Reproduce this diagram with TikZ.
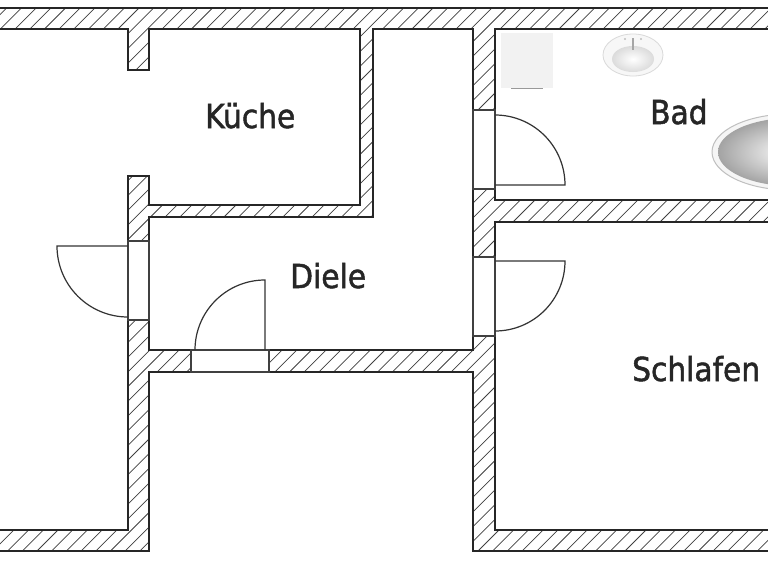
\documentclass[tikz,border=0pt]{standalone}
\usepackage{fontspec}
\newfontfamily\roomfont{DejaVu Sans Condensed}[FakeBold=1.5]
\begin{document}
\begin{tikzpicture}[x=1pt,y=-1pt,
  wall/.style={line width=1.7pt,draw=black!85,line join=miter},
  gap/.style={line width=1.2pt,draw=black!75,fill=white},
  swing/.style={line width=1.2pt,draw=black!80},
  room/.style={font=\roomfont\fontsize{33}{36}\selectfont,text=black!85,inner sep=0pt,anchor=base west}]
\useasboundingbox (0,0) rectangle (768,560);
\fill[white] (0,0) rectangle (768,560);
\def\wallA{(-5,8)--(773,8)--(773,29)--(495,29)--(495,110)--(473,110)--(473,29)--(373,29)--(373,217)--(149,217)--(149,241)--(128,241)--(128,176)--(149,176)--(149,205)--(360,205)--(360,29)--(149,29)--(149,70)--(128,70)--(128,29)--(-5,29)--cycle}
\def\wallB{(473,189)--(495,189)--(495,200)--(773,200)--(773,222)--(495,222)--(495,257)--(473,257)--cycle}
\def\wallC{(128,320)--(149,320)--(149,350)--(191,350)--(191,372)--(149,372)--(149,551)--(-5,551)--(-5,530)--(128,530)--cycle}
\def\wallD{(269,350)--(473,350)--(473,336)--(495,336)--(495,530)--(773,530)--(773,551)--(473,551)--(473,372)--(269,372)--cycle}
\foreach \w in {\wallA,\wallB,\wallC,\wallD}{
  \begin{scope}
    \clip \w;
    \foreach \k in {0,1,...,92}
      \draw[line width=0.75pt,black!75] ({\k*14.7-560},560) -- ++(600,-600);
  \end{scope}
}
\foreach \w in {\wallA,\wallB,\wallC,\wallD}{ \draw[wall] \w; }
% door openings
\draw[gap] (128,241) rectangle (149,320);
\draw[gap] (191,350) rectangle (269,372);
\draw[gap] (473,110) rectangle (495,189);
\draw[gap] (473,257) rectangle (495,336);
% door leaves
\draw[swing] (128,246) -- (57,246) arc[start angle=180,end angle=270,x radius=71,y radius=-71];
\draw[swing] (265,350) -- (265,280) arc[start angle=90,end angle=180,x radius=70,y radius=-70];
\draw[swing] (495,185) -- (565,185) arc[start angle=0,end angle=90,x radius=70,y radius=-70];
\draw[swing] (495,261) -- (565,261) arc[start angle=0,end angle=-90,x radius=70,y radius=-70];
% fixtures
\fill[black!5] (501,33) rectangle (553,88);
\draw[black!40,line width=0.8pt] (511,88.5) -- (543,88.5);
\draw[black!15,fill=black!3,line width=0.8pt] (633,55) ellipse[x radius=30,y radius=21];
\shade[inner color=white,outer color=black!14] (633,59) ellipse[x radius=21,y radius=13];
\draw[black!35,line width=1.4pt] (633,38) -- (633,50);
\fill[black!25] (625,39) circle (1.2); \fill[black!25] (641,39) circle (1.2);
\begin{scope}
\clip (700,100) rectangle (768,198);
\draw[black!25,fill=black!4,line width=1pt] (790,152) ellipse[x radius=78,y radius=38];
\shade[inner color=white,outer color=black!36] (792,152) ellipse[x radius=74,y radius=34];
\end{scope}
% labels
\node[room] (kueche) at (205,128) {Küche};
\node[room] (bad) at (650,124) {Bad};
\node[room] (diele) at (290,288) {Diele};
\node[room] (schlafen) at (632,381) {Schlafen};
\end{tikzpicture}
\end{document}
